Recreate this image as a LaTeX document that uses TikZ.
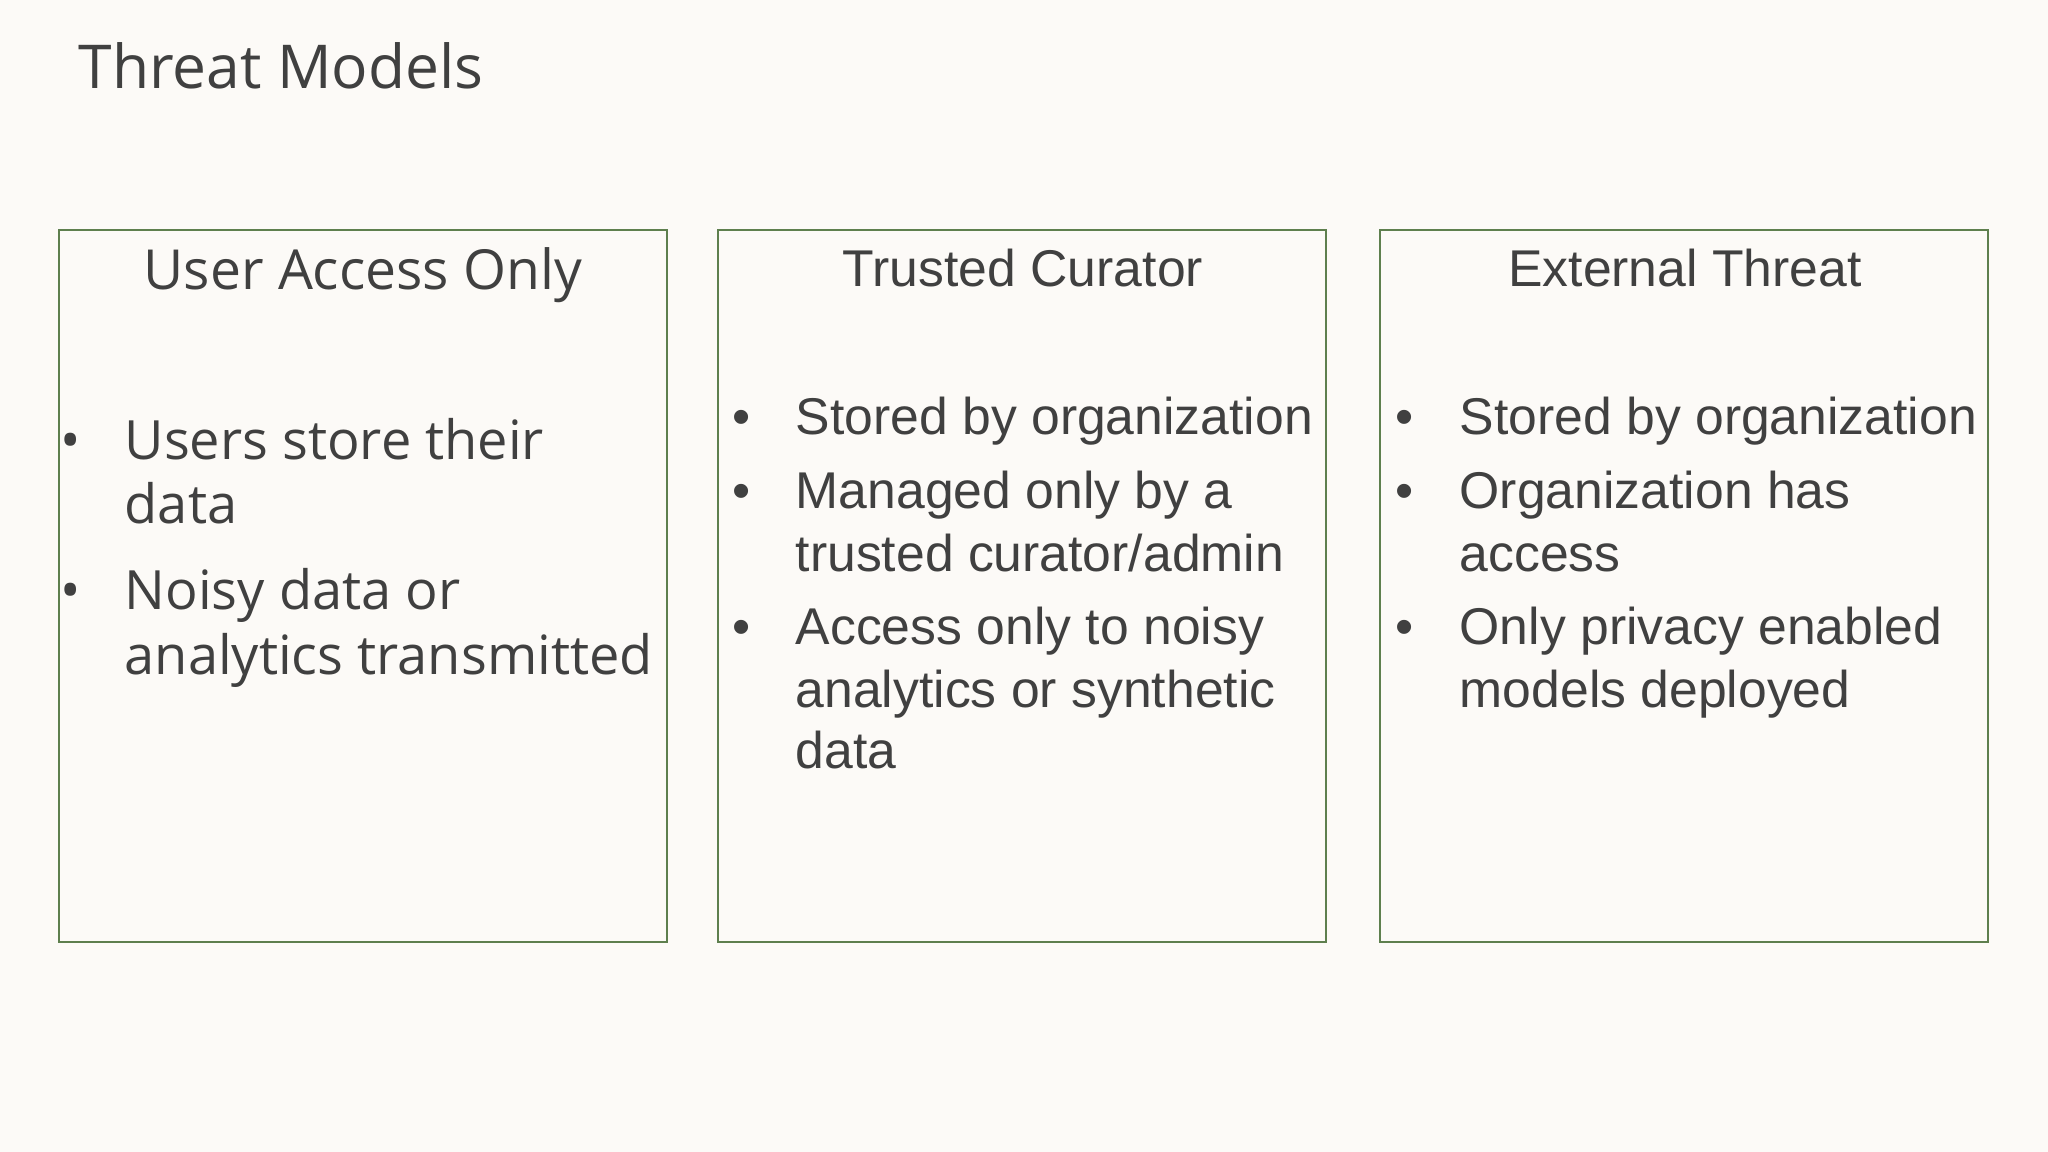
\documentclass[tikz,border=0pt]{standalone}
\usepackage{fontspec}
\setmainfont{Liberation Sans}
\newfontfamily\seg{Open Sans}
\definecolor{bg}{HTML}{FCFAF7}
\definecolor{tx}{HTML}{404040}
\definecolor{bx}{HTML}{5E7F4E}
\begin{document}
\begin{tikzpicture}[x=0.01cm,y=-0.01cm,
  box/.style={draw=bx,line width=0.6pt},
  ln/.style={anchor=base west,inner sep=0,text=tx,font=\fontsize{14.7pt}{18pt}\selectfont},
  lns/.style={anchor=base west,inner sep=0,text=tx,font=\seg\fontsize{15.4pt}{20pt}\selectfont},
  hd/.style={anchor=base,inner sep=0,text=tx,font=\fontsize{14.7pt}{18pt}\selectfont}]
\fill[bg] (0,0) rectangle (2048,1152);
\useasboundingbox (0,0) rectangle (2048,1152);
\node[anchor=base west,inner sep=0,text=tx,font=\seg\fontsize{17.2pt}{22pt}\selectfont] (title) at (78,89) {Threat Models};
\draw[box] (59,230) rectangle (667,942);
\draw[box] (718,230) rectangle (1326,942);
\draw[box] (1380,230) rectangle (1988,942);
% box 1
\node[hd,font=\seg\fontsize{15.7pt}{20pt}\selectfont] (h1) at (363,290) {User Access Only};
\node[lns] (b1a) at (60,460) {•};
\node[lns] (l1a) at (124,460) {Users store their};
\node[lns] (l1b) at (124,524) {data};
\node[lns] (b1b) at (60,610) {•};
\node[lns] (l1c) at (124,610) {Noisy data or};
\node[lns] (l1d) at (124,674) {analytics transmitted};
% box 2
\node[hd] (h2) at (1023,287) {Trusted Curator};
\foreach \y/\t [count=\i] in {435/Stored by organization,509/Managed only by a,571/{trusted curator/admin},645/Access only to noisy,707/analytics or synthetic,768/data}
  \node[ln] (l2\i) at (795,\y) {\t};
\foreach \y [count=\i] in {435,509,645}
  \node[ln] (b2\i) at (732,\y) {•};
% box 3
\node[hd] (h3) at (1685,287) {External Threat};
\foreach \y/\t [count=\i] in {435/Stored by organization,509/Organization has,571/access,645/Only privacy enabled,707/models deployed}
  \node[ln] (l3\i) at (1459,\y) {\t};
\foreach \y [count=\i] in {435,509,645}
  \node[ln] (b3\i) at (1395,\y) {•};
\end{tikzpicture}
\end{document}
